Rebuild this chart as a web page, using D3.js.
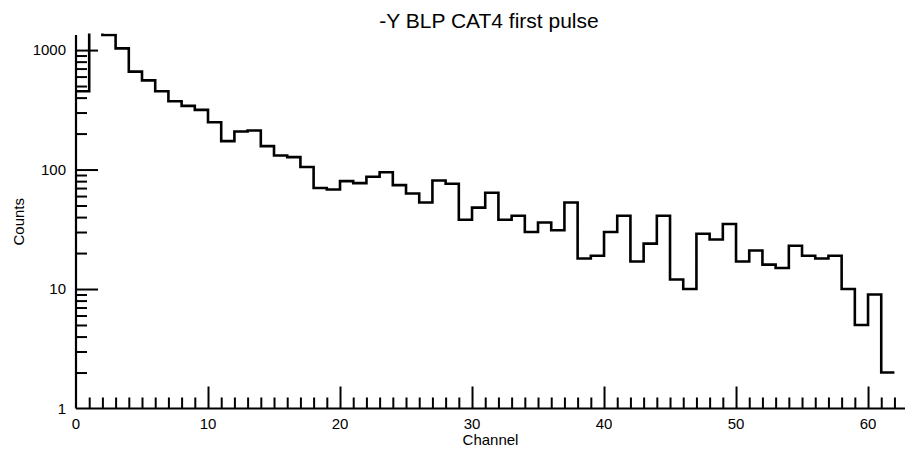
<!DOCTYPE html>
<html>
<head>
<meta charset="utf-8">
<script src="https://cdn.jsdelivr.net/npm/d3@7/dist/d3.min.js"></script>
<style>
  html, body { margin: 0; padding: 0; background: #fff; }
  svg { display: block; font-family: "Liberation Sans", Arial, Helvetica, sans-serif; }
</style>
</head>
<body>
<svg id="chart" width="905" height="455"></svg>
<script>
// Histogram of first-pulse counts per channel (one bin per channel, 0..61)
const channels = d3.range(0, 62);
const counts = [
  452, 1700, 1337, 1033, 660, 558, 452, 373, 341, 316,
  249, 173, 208, 212, 157, 131, 127, 105, 70, 68,
  80, 77, 87, 95, 74, 63, 53, 81, 76, 38,
  48, 64, 38, 41, 30, 36, 31, 53, 18, 19,
  30, 41, 17, 24, 41, 12, 10, 29, 26, 35,
  17, 21, 16, 15, 23, 19, 18, 19, 10, 5,
  9, 2
];
const xMajorTicks = [0, 10, 20, 30, 40, 50, 60];
const yMajorTicks = [1, 10, 100, 1000];

const titleText = "-Y BLP CAT4 first pulse";
const xLabel = "Channel";
const yLabel = "Counts";

const plotLeft = 76, plotRight = 905, plotTop = 35, plotBottom = 408.5;

const svg = d3.select("#chart");

const x = d3.scaleLinear().domain([0, 62.8]).range([plotLeft, plotRight]);
const y = d3.scaleLog().domain([1, 1337]).range([plotBottom, plotTop]);

// Minor ticks: every channel on x, 2..9 of each decade on y
const xMinor = d3.range(0, 63).filter(v => v % 10 !== 0);
const yMinor = [];
[1, 10, 100, 1000].forEach(d => {
  for (let k = 2; k <= 9; k++) {
    const v = d * k;
    if (v <= 1337) yMinor.push(v);
  }
});
// Long ticks, skipping the ones that fall on the other axis line
const xLong = xMajorTicks.filter(v => v !== 0);
const yLong = yMajorTicks.filter(v => v !== 1);

const axisColor = "#000";

// Clip the histogram to the plotting area
svg.append("defs").append("clipPath").attr("id", "plot-clip")
  .append("rect")
  .attr("x", plotLeft).attr("y", plotTop - 1.5)
  .attr("width", plotRight - plotLeft).attr("height", plotBottom - plotTop + 1.5);

// Histogram outline drawn as steps
const pts = channels.map((c, i) => [c, counts[i]]);
pts.push([channels[channels.length - 1] + 1, counts[counts.length - 1]]);
const line = d3.line()
  .x(d => x(d[0]))
  .y(d => y(d[1]))
  .curve(d3.curveStepAfter);

svg.append("path")
  .datum(pts)
  .attr("clip-path", "url(#plot-clip)")
  .attr("fill", "none")
  .attr("stroke", "#000")
  .attr("stroke-width", 2.6)
  .attr("stroke-linejoin", "miter")
  .attr("d", line);

// X axis: ticks point up into the plot
const gx = svg.append("g").attr("transform", `translate(0,${plotBottom})`);
gx.append("g")
  .call(d3.axisTop(x).tickValues(xMinor).tickSize(11).tickFormat(""))
  .call(g => g.select(".domain").remove());
gx.append("g")
  .call(d3.axisTop(x).tickValues(xLong).tickSize(22).tickFormat(""))
  .call(g => g.select(".domain").remove());
gx.selectAll("line").attr("stroke", axisColor).attr("stroke-width", 2);
gx.append("line")
  .attr("x1", plotLeft).attr("x2", plotRight)
  .attr("stroke", axisColor).attr("stroke-width", 2.2);
gx.selectAll(".xlab")
  .data(xMajorTicks)
  .enter().append("text")
  .attr("x", d => x(d))
  .attr("y", 20)
  .attr("text-anchor", "middle")
  .attr("font-size", 15)
  .attr("fill", "#000")
  .text(d => d);

// Y axis: ticks point right into the plot
const gy = svg.append("g").attr("transform", `translate(${plotLeft},0)`);
gy.append("g")
  .call(d3.axisRight(y).tickValues(yMinor).tickSize(11).tickFormat(""))
  .call(g => g.select(".domain").remove());
gy.append("g")
  .call(d3.axisRight(y).tickValues(yLong).tickSize(22).tickFormat(""))
  .call(g => g.select(".domain").remove());
gy.selectAll("line").attr("stroke", axisColor).attr("stroke-width", 2);
gy.append("line")
  .attr("y1", plotTop).attr("y2", plotBottom)
  .attr("stroke", axisColor).attr("stroke-width", 2.2);
gy.selectAll(".ylab")
  .data(yMajorTicks)
  .enter().append("text")
  .attr("x", -10)
  .attr("y", d => y(d))
  .attr("dy", "0.36em")
  .attr("text-anchor", "end")
  .attr("font-size", 15)
  .attr("fill", "#000")
  .text(d => d);

// Titles
svg.append("text")
  .attr("x", 489).attr("y", 28.3)
  .attr("text-anchor", "middle")
  .attr("font-size", 21)
  .attr("fill", "#000")
  .text(titleText);

svg.append("text")
  .attr("x", (plotLeft + plotRight) / 2).attr("y", 445)
  .attr("text-anchor", "middle")
  .attr("font-size", 15)
  .attr("fill", "#000")
  .text(xLabel);

svg.append("text")
  .attr("transform", `translate(23.5,${(plotTop + plotBottom) / 2}) rotate(-90)`)
  .attr("text-anchor", "middle")
  .attr("font-size", 15)
  .attr("fill", "#000")
  .text(yLabel);
</script>
</body>
</html>
